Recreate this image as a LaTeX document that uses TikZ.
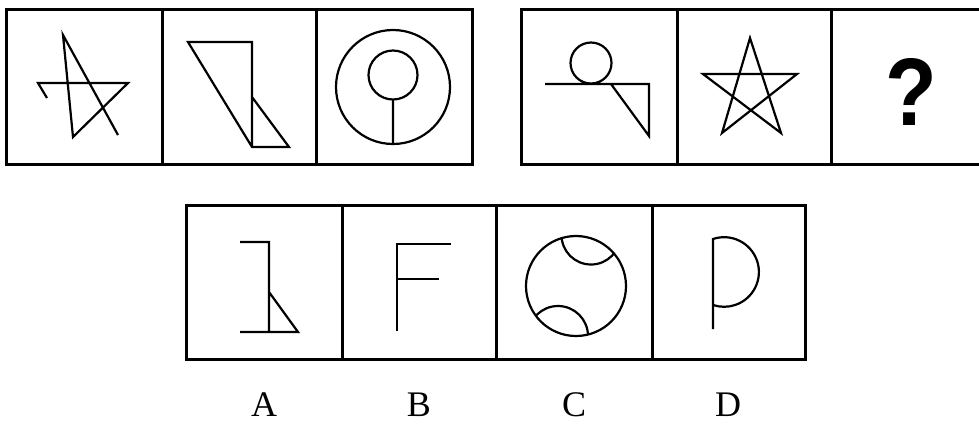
\documentclass[tikz,border=0pt]{standalone}
\usepackage{fontspec}
\setmainfont{Liberation Serif}
\newfontfamily\qfont{Liberation Sans}
\begin{document}
\begin{tikzpicture}[x=0.5pt,y=-0.5pt,frame/.style={line width=1.5pt},fig/.style={line width=1.1pt},
  every node/.style={font=\fontsize{18}{18}\selectfont}]
  \useasboundingbox (0,0) rectangle (979,425);
  \draw[frame] (6,9) rectangle (472,164);
  \draw[frame] (162,9) -- (162,164) (316,9) -- (316,164);
  \draw[frame] (979,9) -- (521,9) -- (521,164) -- (979,164);
  \draw[frame] (677,9) -- (677,164) (831,9) -- (831,164);
  \draw[frame] (186,205) rectangle (805,359);
  \draw[frame] (342,205) -- (342,359) (496,205) -- (496,359) (652,205) -- (652,359);
  \draw[fig] (47,98) -- (38,83) -- (128,83) -- (73,137) -- (63,35) -- (118,135);
  \draw[fig] (252,97) -- (289,147) -- (252,147) -- (188,42) -- (252,42) -- (252,147);
  \draw[fig] (393,87) circle[radius=57] (393,75) circle[radius=24.5] (393,99.5) -- (393,144);
  \draw[fig] (591,63) circle[radius=20.5] (545,84) -- (649,84) -- (649,136) -- (611,84);
  \draw[fig] (750,38) -- (722,133) -- (797,74) -- (703,74) -- (781,133) -- cycle;
  \node[font=\qfont\bfseries\fontsize{48}{48}\selectfont] (q) at (911,92) {\scalebox{0.88}[1]{?}};
  \draw[fig] (240,242) -- (269,242) -- (269,332) (240,332) -- (298,332) -- (269,292);
  \draw[fig] (451,244) -- (397,244) -- (397,331) (397,279) -- (439,279);
  \draw[fig] (576,286) circle[radius=50];
  \begin{scope}
    \clip (576,286) circle[radius=50];
    \draw[fig] (591,235) circle[radius=29.5] (558,336) circle[radius=30];
  \end{scope}
  \draw[fig] (713,329) -- (713,239) arc[start angle=-108.6,end angle=108.6,radius=34.8];
  \node (la) at (264,405) {A};
  \node (lb) at (419,405) {B};
  \node (lc) at (574,405) {C};
  \node (ld) at (728,405) {D};
\end{tikzpicture}
\end{document}
